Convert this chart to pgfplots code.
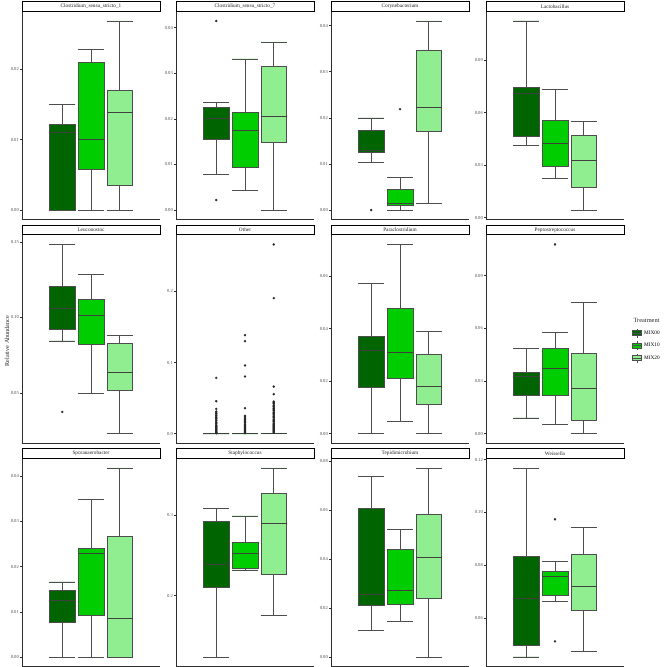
\documentclass[border=0pt]{standalone}
\usepackage{fontspec}
\setmainfont{Liberation Serif}
\usepackage{pgfplots}
\pgfplotsset{compat=1.18}
\usepgfplotslibrary{statistics}
\definecolor{mixA}{RGB}{0,100,0}
\definecolor{mixB}{RGB}{0,205,0}
\definecolor{mixC}{RGB}{144,238,144}
\definecolor{boxln}{RGB}{77,77,77}
\definecolor{axln}{RGB}{45,45,45}
\definecolor{tklab}{RGB}{77,77,77}
\pgfplotsset{
  panel/.style={
    scale only axis, width=138bp, height=208bp, anchor=south west,
    xmin=0.4, xmax=1.6, xtick=\empty,
    axis x line*=bottom, axis y line*=left,
    axis line style={-, line width=0.6bp, draw=axln},
    tick align=outside, major tick length=2bp,
    tick style={draw=axln, line width=0.5bp},
    scaled y ticks=false, scaled x ticks=false,
    yticklabel style={font=\fontsize{4.6}{5}\selectfont, text=tklab, inner sep=1bp},
    /pgf/number format/assume math mode=true,
    every axis title shift=0pt,
    title style={at={(0.5,1)}, anchor=south, draw=black, line width=0.6bp,
      fill=white, minimum width=138bp, minimum height=9.6bp, inner sep=0pt,
      font=\fontsize{5.3}{6}\selectfont, text=black!85},
    clip=false,
    boxplot/draw direction=y,
    boxplot/every median/.style={line width=0.9bp, draw=black!75},
  },
  mybox/.style n args={7}{forget plot,
    boxplot prepared={lower whisker=#1, lower quartile=#2, median=#3,
      upper quartile=#4, upper whisker=#5, draw position=#6,
      box extend=0.225, whisker extend=0.225},
    fill=#7, draw=boxln, line width=0.6bp, solid,
    mark=*, mark options={draw=black!85, fill=black!85, mark size=1.1bp, line width=0.2bp}},
  keyimg/.style={legend image code/.code={
    \path[draw=none,fill=none] (0bp,-6bp) rectangle (12bp,6bp);
    \draw[draw=boxln,line width=0.5bp] (6bp,-4.5bp)--(6bp,-2.5bp) (6bp,2.5bp)--(6bp,4.5bp);
    \draw[draw=boxln,fill=#1,line width=0.5bp] (1.5bp,-2.5bp) rectangle (10.5bp,2.5bp);
    \draw[draw=boxln,line width=0.6bp] (1.5bp,0bp)--(10.5bp,0bp);
  }},
}
\begin{document}
\begin{tikzpicture}
\path[use as bounding box] (0,0) rectangle (668bp,667bp);
% ---------- Row 1 ----------
\begin{axis}[panel, at={(22bp,447.5bp)}, title={Clostridium\_sensu\_stricto\_1},
  ymin=-0.00134, ymax=0.0282, ytick={0,0.01,0.02}, yticklabels={0.00,0.01,0.02}]
\addplot[mybox={0}{0}{0.01106}{0.0122}{0.01504}{0.75}{mixA}] coordinates {};
\addplot[mybox={0}{0.00572}{0.01002}{0.02104}{0.02279}{1.0}{mixB}] coordinates {};
\addplot[mybox={0}{0.00355}{0.0138}{0.01697}{0.02686}{1.25}{mixC}] coordinates {};
\end{axis}
\begin{axis}[panel, at={(176bp,447.5bp)}, title={Clostridium\_sensu\_stricto\_7},
  ymin=-0.00207, ymax=0.04353, ytick={0,0.01,0.02,0.03,0.04}, yticklabels={0.00,0.01,0.02,0.03,0.04}]
\addplot[mybox={0.00781}{0.01547}{0.020}{0.02255}{0.02358}{0.75}{mixA}] coordinates {(0,0.04146) (0,0.00219)};
\addplot[mybox={0.00431}{0.00934}{0.01737}{0.02139}{0.03314}{1.0}{mixB}] coordinates {};
\addplot[mybox={0}{0.01482}{0.02044}{0.03153}{0.03686}{1.25}{mixC}] coordinates {};
\end{axis}
\begin{axis}[panel, at={(331bp,447.5bp)}, title={Corynebacterium},
  ymin=-0.00205, ymax=0.04306, ytick={0,0.01,0.02,0.03,0.04}, yticklabels={0.00,0.01,0.02,0.03,0.04}]
\addplot[mybox={0.01025}{0.01249}{0.01292}{0.01726}{0.020}{0.75}{mixA}] coordinates {(0,0)};
\addplot[mybox={0}{0.00101}{0.00152}{0.00448}{0.0070}{1.0}{mixB}] coordinates {(0,0.02188)};
\addplot[mybox={0.00152}{0.01697}{0.02231}{0.03458}{0.04101}{1.25}{mixC}] coordinates {};
\end{axis}
\begin{axis}[panel, at={(486bp,447.5bp)}, title={Lactobacillus},
  ymin=-0.001, ymax=0.1176, ytick={0,0.03,0.06,0.09}, yticklabels={0.00,0.03,0.06,0.09}]
\addplot[mybox={0.0411}{0.0466}{0.0711}{0.0742}{0.1122}{0.75}{mixA}] coordinates {};
\addplot[mybox={0.0224}{0.0295}{0.0422}{0.0554}{0.0734}{1.0}{mixB}] coordinates {};
\addplot[mybox={0.0044}{0.0171}{0.0329}{0.0468}{0.0550}{1.25}{mixC}] coordinates {};
\end{axis}
% ---------- Row 2 ----------
\begin{axis}[panel, at={(22bp,224bp)}, title={Leuconostoc},
  ymin=0.01705, ymax=0.1545, ytick={0.05,0.10,0.15}, yticklabels={0.05,0.10,0.15}]
\addplot[mybox={0.0845}{0.0921}{0.1060}{0.1203}{0.1482}{0.75}{mixA}] coordinates {(0,0.0376)};
\addplot[mybox={0.050}{0.0823}{0.1011}{0.1121}{0.1285}{1.0}{mixB}] coordinates {};
\addplot[mybox={0.0233}{0.0522}{0.0635}{0.0828}{0.0879}{1.25}{mixC}] coordinates {};
\end{axis}
\begin{axis}[panel, at={(176bp,224bp)}, title={Other},
  ymin=-0.0133, ymax=0.2795, ytick={0,0.1,0.2}, yticklabels={0.0,0.1,0.2}]
\addplot[mybox={0}{0}{0}{0}{0}{0.75}{mixA}] coordinates {(0,0.0784) (0,0.0455) (0,0.0347)
 (0,0.031) (0,0.029) (0,0.028) (0,0.026) (0,0.025) (0,0.023) (0,0.022) (0,0.021) (0,0.019)
 (0,0.018) (0,0.016) (0,0.015) (0,0.014) (0,0.012) (0,0.011) (0,0.010) (0,0.009) (0,0.008)
 (0,0.007) (0,0.006) (0,0.005) (0,0.004) (0,0.003) (0,0.002) (0,0.0015) (0,0.001) (0,0.0005)};
\addplot[mybox={0}{0}{0}{0}{0}{1.0}{mixB}] coordinates {(0,0.1385) (0,0.130) (0,0.0958) (0,0.0803) (0,0.0357)
 (0,0.025) (0,0.024) (0,0.022) (0,0.021) (0,0.020) (0,0.018) (0,0.017) (0,0.016) (0,0.015)
 (0,0.013) (0,0.012) (0,0.011) (0,0.010) (0,0.009) (0,0.008) (0,0.007) (0,0.006) (0,0.005)
 (0,0.004) (0,0.003) (0,0.002) (0,0.001) (0,0.0005)};
\addplot[mybox={0}{0}{0}{0}{0}{1.25}{mixC}] coordinates {(0,0.2662) (0,0.1906) (0,0.0662) (0,0.0554)
 (0,0.045) (0,0.044) (0,0.043) (0,0.042) (0,0.040) (0,0.039) (0,0.038) (0,0.036) (0,0.035)
 (0,0.034) (0,0.033) (0,0.032) (0,0.030) (0,0.029) (0,0.028) (0,0.027) (0,0.025) (0,0.024)
 (0,0.023) (0,0.022) (0,0.020) (0,0.019) (0,0.018) (0,0.017) (0,0.015) (0,0.014) (0,0.013)
 (0,0.012) (0,0.011) (0,0.010) (0,0.009) (0,0.008) (0,0.007) (0,0.006) (0,0.005) (0,0.004)
 (0,0.003) (0,0.002) (0,0.001)};
\end{axis}
\begin{axis}[panel, at={(331bp,224bp)}, title={Paraclostridium},
  ymin=-0.0036, ymax=0.0757, ytick={0,0.02,0.04,0.06}, yticklabels={0.00,0.02,0.04,0.06}]
\addplot[mybox={0}{0.0175}{0.0315}{0.0369}{0.0571}{0.75}{mixA}] coordinates {};
\addplot[mybox={0.0046}{0.0212}{0.0311}{0.0479}{0.0721}{1.0}{mixB}] coordinates {};
\addplot[mybox={0}{0.0113}{0.0181}{0.0304}{0.0390}{1.25}{mixC}] coordinates {};
\end{axis}
\begin{axis}[panel, at={(486bp,224bp)}, title={Peptostreptococcus},
  ymin=-0.0054, ymax=0.1131, ytick={0,0.03,0.06,0.09}, yticklabels={0.00,0.03,0.06,0.09},
  legend style={at={(1.05,0.558)}, anchor=north west, draw=none, fill=none,
    row sep=0.5bp, inner sep=0pt, font=\fontsize{5.3}{6}\selectfont,
    nodes={inner sep=1bp}}, legend cell align=left]
\addlegendimage{keyimg=mixA}\addlegendentry{MIX00}
\addlegendimage{keyimg=mixB}\addlegendentry{MIX10}
\addlegendimage{keyimg=mixC}\addlegendentry{MIX20}
\addplot[mybox={0.0089}{0.0220}{0.0323}{0.0351}{0.0484}{0.75}{mixA}] coordinates {};
\addplot[mybox={0.0051}{0.0216}{0.0370}{0.0488}{0.0575}{1.0}{mixB}] coordinates {(0,0.1077)};
\addplot[mybox={0}{0.0078}{0.0254}{0.0459}{0.0748}{1.25}{mixC}] coordinates {};
\end{axis}
% ---------- Row 3 ----------
\begin{axis}[panel, at={(22bp,0.5bp)}, title={Sporanaerobacter},
  ymin=-0.0021, ymax=0.0439, ytick={0,0.01,0.02,0.03,0.04}, yticklabels={0.00,0.01,0.02,0.03,0.04}]
\addplot[mybox={0}{0.0076}{0.0124}{0.0148}{0.0166}{0.75}{mixA}] coordinates {};
\addplot[mybox={0}{0.0092}{0.0229}{0.0240}{0.0349}{1.0}{mixB}] coordinates {};
\addplot[mybox={0}{0}{0.0085}{0.0268}{0.0418}{1.25}{mixC}] coordinates {};
\end{axis}
\begin{axis}[panel, at={(176bp,0.5bp)}, title={Staphylococcus},
  ymin=0.1119, ymax=0.3707, ytick={0.2,0.3}, yticklabels={0.2,0.3}]
\addplot[mybox={0.1237}{0.2100}{0.2386}{0.2929}{0.3083}{0.75}{mixA}] coordinates {};
\addplot[mybox={0.2320}{0.2340}{0.2523}{0.2664}{0.2992}{1.0}{mixB}] coordinates {};
\addplot[mybox={0.1755}{0.2270}{0.2900}{0.3274}{0.3589}{1.25}{mixC}] coordinates {};
\end{axis}
\begin{axis}[panel, at={(331bp,0.5bp)}, title={Tepidimicrobium},
  ymin=-0.00387, ymax=0.0812, ytick={0,0.02,0.04,0.06,0.08}, yticklabels={0.00,0.02,0.04,0.06,0.08}]
\addplot[mybox={0.0109}{0.0213}{0.0256}{0.0607}{0.0738}{0.75}{mixA}] coordinates {};
\addplot[mybox={0.0147}{0.0216}{0.0272}{0.0439}{0.0523}{1.0}{mixB}] coordinates {};
\addplot[mybox={0}{0.0240}{0.0409}{0.0585}{0.0773}{1.25}{mixC}] coordinates {};
\end{axis}
\begin{axis}[panel, at={(486bp,0.5bp)}, title={Weissella},
  ymin=0.0417, ymax=0.1204, ytick={0.06,0.08,0.10,0.12}, yticklabels={0.06,0.08,0.10,0.12}]
\addplot[mybox={0.0453}{0.0499}{0.0674}{0.0833}{0.1168}{0.75}{mixA}] coordinates {};
\addplot[mybox={0.0663}{0.0685}{0.0757}{0.0777}{0.0816}{1.0}{mixB}] coordinates {(0,0.0974) (0,0.0512)};
\addplot[mybox={0.0474}{0.0629}{0.0720}{0.0843}{0.0944}{1.25}{mixC}] coordinates {};
\end{axis}
% labels
\node[rotate=90, font=\fontsize{6.2}{7}\selectfont, text=black!85] at (7bp,326bp) {Relative Abundance};
\node[anchor=west, font=\fontsize{6.4}{7}\selectfont, text=black!85] at (630bp,347bp) {Treatment};
\end{tikzpicture}
\end{document}
